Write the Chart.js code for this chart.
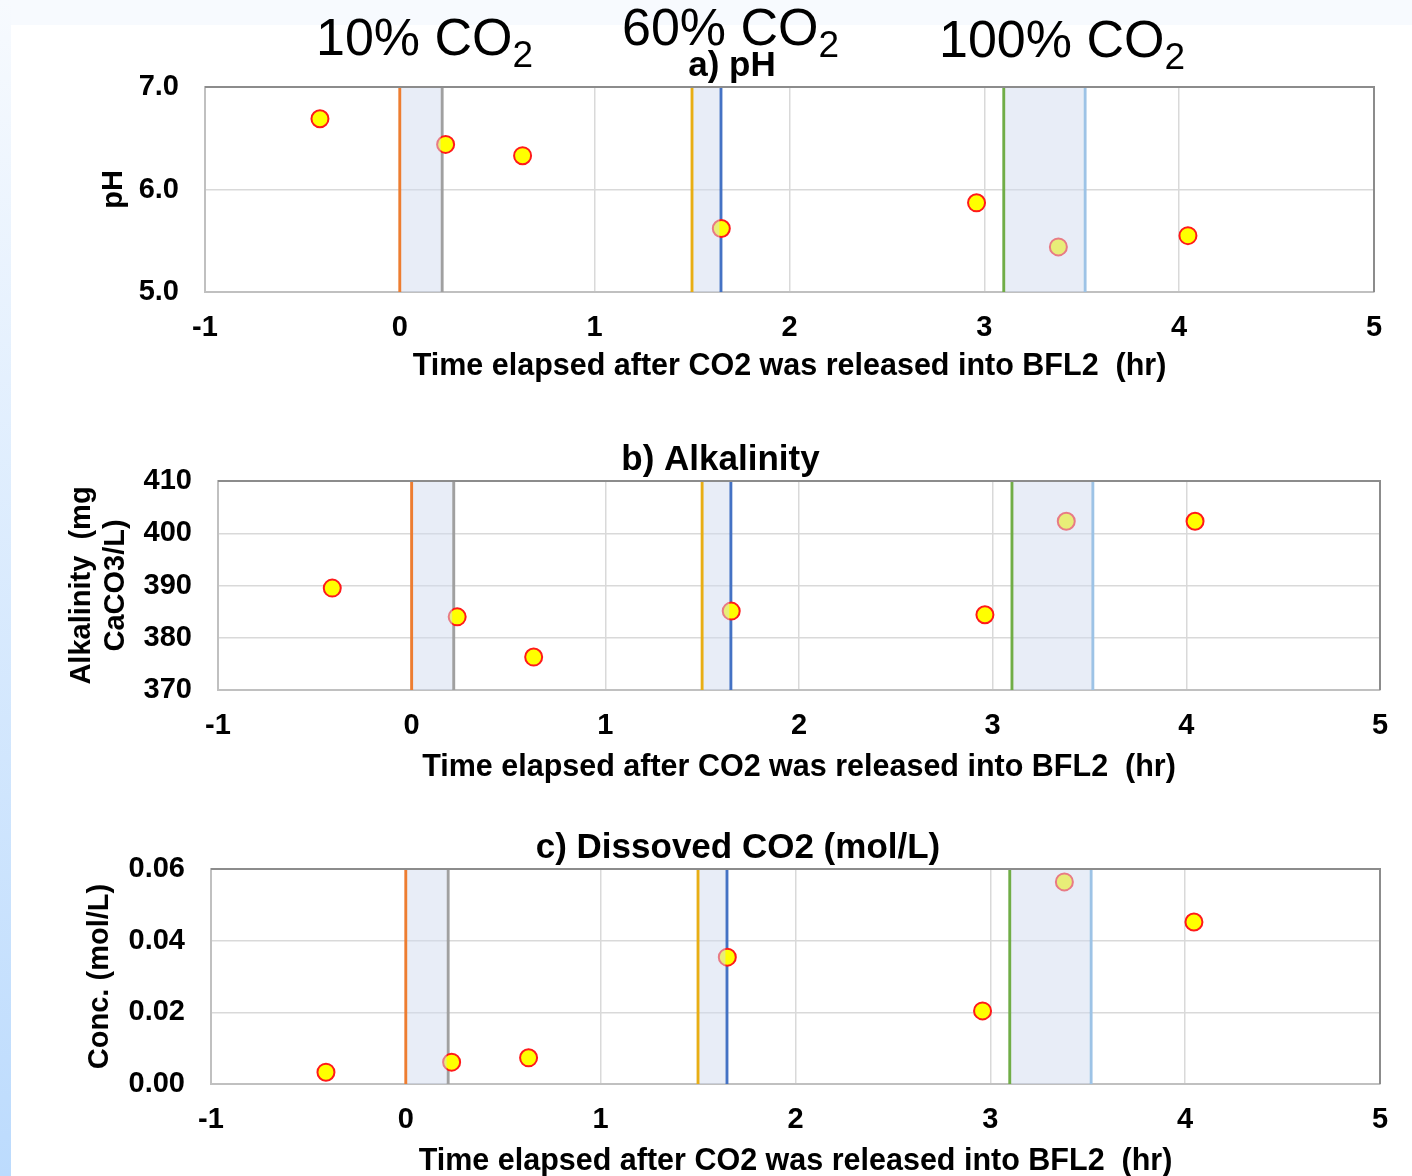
<!DOCTYPE html>
<html>
<head>
<meta charset="utf-8">
<script src="https://cdn.jsdelivr.net/npm/chart.js@4/dist/chart.umd.min.js"></script>
<style>
html, body { margin: 0; padding: 0; }
body { width: 1412px; height: 1176px; position: relative; overflow: hidden; background: #fff; font-family: "Liberation Sans", Arial, sans-serif; }
#topStrip { position: absolute; left: 0; top: 0; width: 1412px; height: 25px; background: #f7fafe; }
#leftStrip { position: absolute; left: 0; top: 0; width: 11px; height: 1176px; background: linear-gradient(#f7fafe, #bcdbfd); }
canvas { position: absolute; left: 11px; }
.gas { position: absolute; font-size: 52px; line-height: 52px; color: #000; white-space: nowrap; z-index: 2; }
.gas span { font-size: 37px; position: relative; top: 12px; }
</style>
</head>
<body>
<div id="topStrip"></div>
<div id="leftStrip"></div>
<canvas id="chartPh" width="1401" height="345" style="top:40px"></canvas>
<canvas id="chartAlk" width="1401" height="352" style="top:434px"></canvas>
<canvas id="chartCo2" width="1401" height="358" style="top:822px"></canvas>
<div class="gas" style="left:316px; top:11px">10% CO<span>2</span></div>
<div class="gas" style="left:622px; top:1px">60% CO<span>2</span></div>
<div class="gas" style="left:939px; top:13px">100% CO<span>2</span></div>
<script>
// sample times (hr after release) and measured values
var time = [-0.41, 0.235, 0.63, 1.65, 2.96, 3.38, 4.045];
var phValues = [6.69, 6.44, 6.33, 5.62, 5.87, 5.44, 5.55];
var alkValues = [389.5, 384.0, 376.3, 385.1, 384.4, 402.3, 402.3];
var co2Values = [0.0033, 0.0061, 0.0073, 0.0354, 0.0204, 0.0564, 0.0452];

// tick labels
var xTicks = [-1, 0, 1, 2, 3, 4, 5];
var phTicks = [5.0, 6.0, 7.0];
var alkTicks = [370, 380, 390, 400, 410];
var co2Ticks = [0.00, 0.02, 0.04, 0.06];

// CO2 injection markers and shaded periods
var eventTimes = [0, 0.217, 1.5, 1.648, 3.1, 3.517];
var eventColors = ['#ed7d31', '#a0a0a0', '#e8ae14', '#4472c4', '#70ad47', '#9dc3e6'];
var bandStart = [0, 1.5, 3.1];
var bandEnd = [0.217, 1.648, 3.517];

var xTitle = 'Time elapsed after CO2 was released into BFL2  (hr)';

Chart.defaults.font.family = '"Liberation Sans", Arial, sans-serif';
Chart.defaults.color = '#000';

var eventPlugin = {
    id: 'events',
    beforeDatasetsDraw: function(chart) {
        var ctx = chart.ctx, area = chart.chartArea, x = chart.scales.x;
        ctx.save();
        ctx.lineWidth = 3;
        eventTimes.forEach(function(t, i) {
            var px = x.getPixelForValue(t);
            ctx.strokeStyle = eventColors[i];
            ctx.beginPath();
            ctx.moveTo(px, area.top);
            ctx.lineTo(px, area.bottom);
            ctx.stroke();
        });
        ctx.restore();
    },
    afterDatasetsDraw: function(chart) {
        var ctx = chart.ctx, area = chart.chartArea, x = chart.scales.x;
        ctx.save();
        ctx.fillStyle = 'rgba(210,220,240,0.5)';
        bandStart.forEach(function(s, i) {
            var p0 = x.getPixelForValue(s) + 1.5;
            var p1 = x.getPixelForValue(bandEnd[i]) - 1.5;
            ctx.fillRect(p0, area.top, p1 - p0, area.bottom - area.top);
        });
        ctx.restore();
    },
    afterDraw: function(chart) {
        // darker frame on top and right, like the original
        var ctx = chart.ctx, a = chart.chartArea;
        ctx.save();
        ctx.strokeStyle = '#8c8c8c';
        ctx.lineWidth = 2;
        ctx.beginPath();
        ctx.moveTo(a.left, a.top);
        ctx.lineTo(a.right, a.top);
        ctx.lineTo(a.right, a.bottom);
        ctx.stroke();
        ctx.restore();
    }
};

function makeChart(id, opts) {
    var ctx = document.getElementById(id).getContext('2d');
    return new Chart(ctx, {
        type: 'scatter',
        data: {
            datasets: [{
                data: time.map(function(t, i) { return {x: t, y: opts.values[i]}; }),
                backgroundColor: '#ffff00',
                borderColor: '#ff1a1a',
                borderWidth: 2,
                pointRadius: 8.5,
                pointHoverRadius: 8.5
            }]
        },
        options: {
            responsive: false,
            animation: false,
            devicePixelRatio: 1,
            layout: { padding: { left: opts.padLeft, right: opts.padRight, top: 0, bottom: 0 } },
            plugins: {
                legend: { display: false },
                tooltip: { enabled: false },
                title: {
                    display: true,
                    text: opts.title,
                    font: { size: 35, weight: 'bold' },
                    padding: { top: 5, bottom: 0 }
                }
            },
            scales: {
                x: {
                    type: 'linear',
                    min: -1,
                    max: 5,
                    afterBuildTicks: function(s) { s.ticks = xTicks.map(function(v) { return {value: v}; }); },
                    afterFit: function(s) { s.height = opts.xHeight; },
                    grid: { color: '#d9d9d9', lineWidth: 1.5, drawTicks: false },
                    border: { color: '#c0c0c0', width: 2 },
                    ticks: { padding: 19, font: { size: 29, weight: 'bold' } },
                    title: { display: true, text: xTitle, font: { size: 30.5, weight: 'bold' }, padding: { top: 5, bottom: 0 } }
                },
                y: {
                    min: opts.ticks[0],
                    max: opts.ticks[opts.ticks.length - 1],
                    afterBuildTicks: function(s) { s.ticks = opts.ticks.map(function(v) { return {value: v}; }); },
                    afterFit: function(s) { s.width = opts.axisWidth; },
                    grid: { color: '#d9d9d9', lineWidth: 1.5, drawTicks: false },
                    border: { color: '#c0c0c0', width: 2 },
                    ticks: {
                        padding: 26,
                        font: { size: 29, weight: 'bold' },
                        callback: function(v) { return v.toFixed(opts.decimals); }
                    },
                    title: {
                        display: true,
                        text: opts.yTitle,
                        font: { size: 29, weight: 'bold', lineHeight: opts.yLineHeight },
                        padding: { top: opts.yTitlePad, bottom: 0 }
                    }
                }
            }
        },
        plugins: [eventPlugin]
    });
}

makeChart('chartPh', {
    values: phValues, ticks: phTicks, decimals: 1,
    title: 'a) pH', yTitle: 'pH', yLineHeight: 1.2,
    padLeft: 79, padRight: 38, axisWidth: 115, yTitlePad: 6.6, xHeight: 93
});
makeChart('chartAlk', {
    values: alkValues, ticks: alkTicks, decimals: 0,
    title: 'b) Alkalinity', yTitle: ['Alkalinity  (mg', 'CaCO3/L)'], yLineHeight: 1.17,
    padLeft: 50, padRight: 32, axisWidth: 157, yTitlePad: 4, xHeight: 96
});
makeChart('chartCo2', {
    values: co2Values, ticks: co2Ticks, decimals: 2,
    title: 'c) Dissoved CO2 (mol/L)', yTitle: 'Conc. (mol/L)', yLineHeight: 1.2,
    padLeft: 85, padRight: 32, axisWidth: 115, yTitlePad: -13.4, xHeight: 96
});
</script>
</body>
</html>
